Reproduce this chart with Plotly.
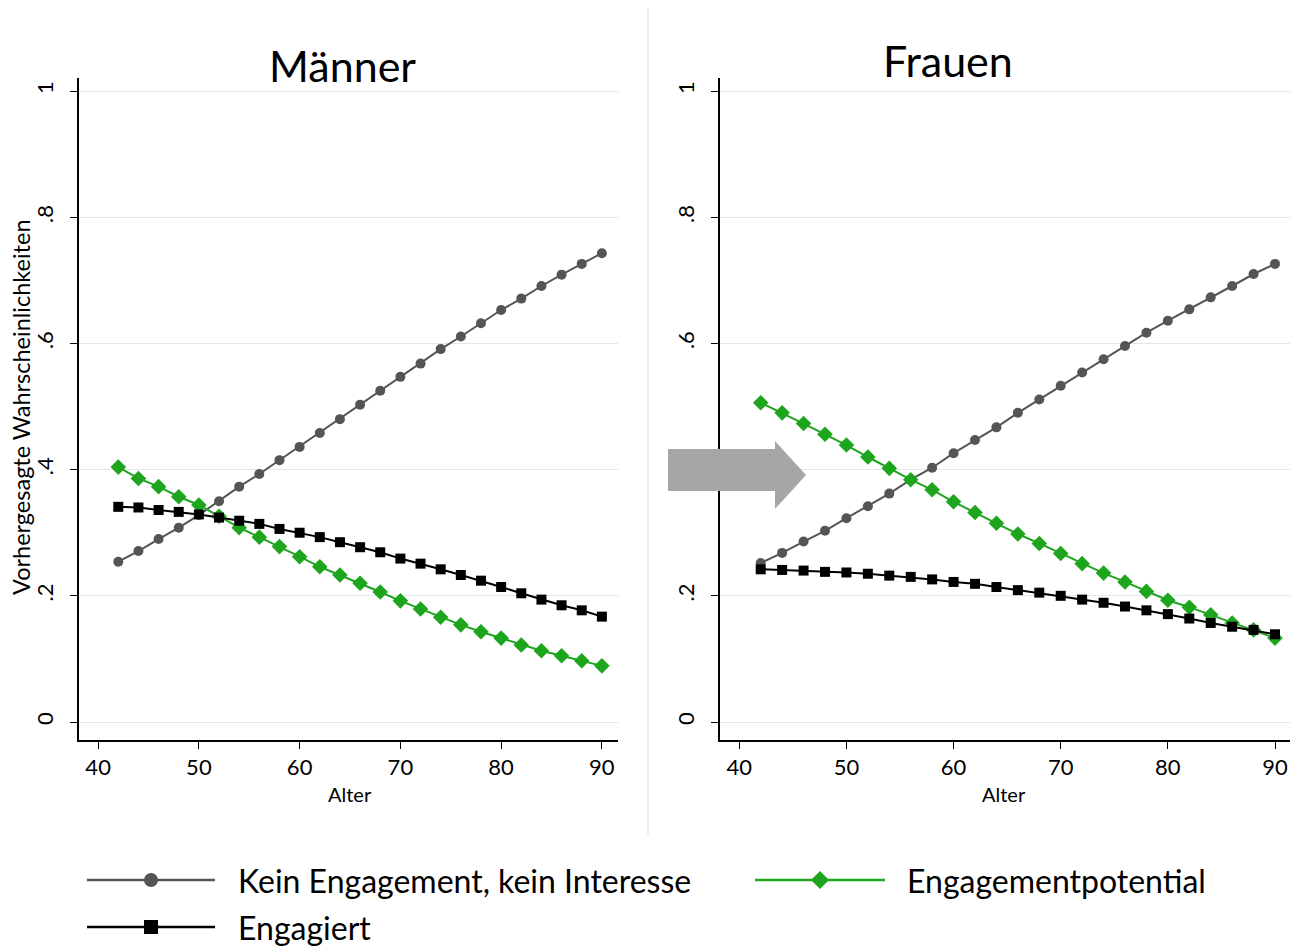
import plotly.graph_objects as go

W, H = 1297, 946

ages = list(range(42, 91, 2))

# Männer
m_kein = [0.254, 0.271, 0.290, 0.308, 0.328, 0.350, 0.373, 0.393, 0.415, 0.436, 0.458, 0.480, 0.503,
          0.525, 0.547, 0.568, 0.591, 0.611, 0.632, 0.653, 0.671, 0.691, 0.709, 0.726, 0.743]
m_potential = [0.404, 0.386, 0.373, 0.357, 0.344, 0.326, 0.308, 0.293, 0.278, 0.262, 0.246, 0.233, 0.220,
               0.206, 0.192, 0.179, 0.166, 0.154, 0.143, 0.133, 0.122, 0.113, 0.105, 0.097, 0.089]
m_engagiert = [0.341, 0.340, 0.336, 0.333, 0.329, 0.324, 0.319, 0.314, 0.306, 0.300, 0.293, 0.285, 0.277,
               0.269, 0.259, 0.251, 0.242, 0.233, 0.224, 0.214, 0.204, 0.194, 0.185, 0.177, 0.167]

# Frauen
f_kein = [0.252, 0.268, 0.286, 0.303, 0.323, 0.342, 0.362, 0.384, 0.403, 0.426, 0.447, 0.467, 0.490,
          0.511, 0.533, 0.554, 0.575, 0.596, 0.617, 0.636, 0.654, 0.673, 0.691, 0.710, 0.726]
f_potential = [0.506, 0.490, 0.473, 0.456, 0.439, 0.420, 0.402, 0.384, 0.368, 0.349, 0.332, 0.315, 0.298,
               0.283, 0.267, 0.251, 0.236, 0.222, 0.207, 0.193, 0.182, 0.170, 0.157, 0.146, 0.133]
f_engagiert = [0.242, 0.241, 0.240, 0.238, 0.237, 0.235, 0.232, 0.230, 0.226, 0.222, 0.219, 0.214, 0.209,
               0.205, 0.200, 0.194, 0.189, 0.183, 0.177, 0.171, 0.164, 0.157, 0.151, 0.146, 0.139]

series_names = ["Kein Engagement, kein Interesse", "Engagementpotential", "Engagiert"]
panel_titles = ["Männer", "Frauen"]
x_ticks = [40, 50, 60, 70, 80, 90]
y_ticks = [0, 0.2, 0.4, 0.6, 0.8, 1]
y_ticktext = ["0", ".2", ".4", ".6", ".8", "1"]
x_title = "Alter"
y_title = "Vorhergesagte Wahrscheinlichkeiten"

GRAY = "#555555"
GREEN = "#1ea51e"
BLACK = "#000000"
FONT = "Lato"

def fx(x):
    return x / W

def fy(y):
    return 1 - y / H

fig = go.Figure()

styles = [
    dict(color=GRAY, symbol="circle", size=10),
    dict(color=GREEN, symbol="diamond", size=12),
    dict(color=BLACK, symbol="square", size=10),
]

panels = [
    ("x", "y", [m_kein, m_potential, m_engagiert]),
    ("x2", "y2", [f_kein, f_potential, f_engagiert]),
]
for xa, ya, data in panels:
    for name, vals, st in zip(series_names, data, styles):
        fig.add_trace(go.Scatter(
            x=ages, y=vals, mode="lines+markers", name=name, xaxis=xa, yaxis=ya,
            line=dict(color=st["color"], width=2),
            marker=dict(color=st["color"], symbol=st["symbol"], size=st["size"], line=dict(width=0)),
            showlegend=False,
        ))

ydom = [fy(740), fy(78.4)]
axis_common = dict(showline=True, linecolor="black", linewidth=1.5, ticks="outside",
                   ticklen=7, tickcolor="black", tickwidth=1.2,
                   tickfont=dict(family=FONT, size=22, color="black"))

fig.update_layout(
    width=W, height=H,
    margin=dict(l=0, r=0, t=0, b=0),
    paper_bgcolor="white", plot_bgcolor="white",
    showlegend=False,
    font=dict(family=FONT, color="black"),
    xaxis=dict(domain=[fx(79), fx(618)], range=[38.1, 91.6], tickvals=x_ticks,
               showgrid=False, zeroline=False, anchor="y", **axis_common),
    yaxis=dict(domain=ydom, range=[-0.0285, 1.02], tickvals=y_ticks, ticktext=y_ticktext,
               tickangle=-90, showgrid=True, gridcolor="#e6e6e6", gridwidth=1, zeroline=False,
               anchor="x", ticklabelstandoff=8, **axis_common),
    xaxis2=dict(domain=[fx(720), fx(1290)], range=[38.2, 91.4], tickvals=x_ticks,
                showgrid=False, zeroline=False, anchor="y2", **axis_common),
    yaxis2=dict(domain=ydom, range=[-0.0285, 1.02], tickvals=y_ticks, ticktext=y_ticktext,
                tickangle=-90, showgrid=True, gridcolor="#e6e6e6", gridwidth=1, zeroline=False,
                anchor="x2", ticklabelstandoff=8, **axis_common),
)

annotations = [
    dict(x=fx(343), y=fy(65), text=panel_titles[0], font=dict(family=FONT, size=43, color="black")),
    dict(x=fx(948), y=fy(60), text=panel_titles[1], font=dict(family=FONT, size=43, color="black")),
    dict(x=fx(350), y=fy(794), text=x_title, font=dict(family=FONT, size=20, color="black")),
    dict(x=fx(1004), y=fy(794), text=x_title, font=dict(family=FONT, size=20, color="black")),
    dict(x=fx(21), y=fy(407), text=y_title, textangle=-90, font=dict(family=FONT, size=23.5, color="black")),
]
for a in annotations:
    a.update(xref="paper", yref="paper", showarrow=False, xanchor="center", yanchor="middle")
    fig.add_annotation(**a)

shapes = []
# faint separator
shapes.append(dict(type="line", xref="paper", yref="paper", x0=fx(648), x1=fx(648), y0=fy(8), y1=fy(835),
                   line=dict(color="#efefef", width=2)))
# arrow
pts = [(668, 449), (775, 449), (775, 441), (806, 475), (775, 509), (775, 491), (668, 491)]
path = "M " + " L ".join(f"{fx(px):.5f},{fy(py):.5f}" for px, py in pts) + " Z"
shapes.append(dict(type="path", xref="paper", yref="paper", path=path, fillcolor="#a6a6a6",
                   line=dict(width=0)))

# manual legend
legend_items = [
    (87, 215, 880, 236, series_names[0], styles[0]),
    (755, 885, 880, 905, series_names[1], styles[1]),
    (87, 215, 927, 236, series_names[2], styles[2]),
]
for x0, x1, yy, tx, name, st in legend_items:
    shapes.append(dict(type="line", xref="paper", yref="paper", x0=fx(x0), x1=fx(x1), y0=fy(yy), y1=fy(yy),
                       line=dict(color=st["color"], width=2.5)))
    cx = (x0 + x1) / 2
    r = 7
    if st["symbol"] == "circle":
        shapes.append(dict(type="circle", xref="paper", yref="paper", x0=fx(cx - r), x1=fx(cx + r),
                           y0=fy(yy + r), y1=fy(yy - r), fillcolor=st["color"], line=dict(width=0)))
    elif st["symbol"] == "square":
        shapes.append(dict(type="rect", xref="paper", yref="paper", x0=fx(cx - r), x1=fx(cx + r),
                           y0=fy(yy + r), y1=fy(yy - r), fillcolor=st["color"], line=dict(width=0)))
    else:
        d = 9
        dp = [(cx, yy - d), (cx + d, yy), (cx, yy + d), (cx - d, yy)]
        p = "M " + " L ".join(f"{fx(a):.5f},{fy(b):.5f}" for a, b in dp) + " Z"
        shapes.append(dict(type="path", xref="paper", yref="paper", path=p, fillcolor=st["color"],
                           line=dict(width=0)))
    fig.add_annotation(x=fx(tx), y=fy(yy), xref="paper", yref="paper", text=name, showarrow=False,
                       xanchor="left", yanchor="middle", font=dict(family=FONT, size=32, color="black"))

fig.update_layout(shapes=shapes)

fig.write_html("out.html", config={"displayModeBar": False},
               post_script="document.body.style.margin='0px';document.body.style.overflow='hidden';")
